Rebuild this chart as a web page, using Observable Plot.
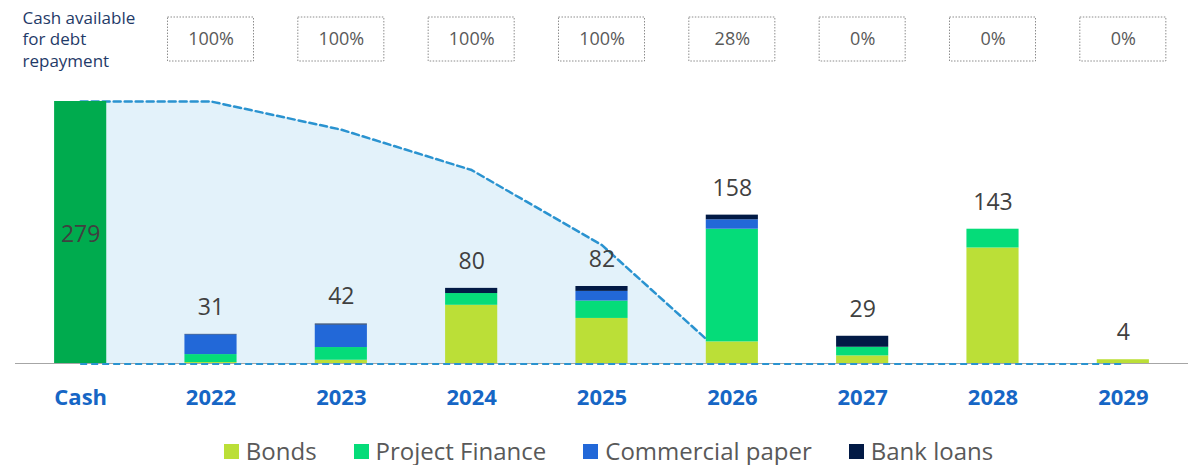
<!DOCTYPE html>
<html><head><meta charset="utf-8">
<script src="https://cdn.jsdelivr.net/npm/d3@7"></script>
<script src="https://cdn.jsdelivr.net/npm/@observablehq/plot@0.6"></script>
<style>
body{margin:0;background:#fff;font-family:"Open Sans",sans-serif;}
#chart{width:1201px;}
#chart svg{display:block;}
.lg-swatches{justify-content:center !important;padding-left:16px;margin-top:17px !important;margin-bottom:0 !important;min-height:28px !important;line-height:1.15 !important;font-size:24px !important;color:#595959 !important;font-family:"Open Sans",sans-serif !important;}
.lg-swatch{margin-right:37px !important;}
.lg-swatch:last-child{margin-right:0 !important;}
.lg-swatch > svg{margin-right:7px !important;}
</style></head><body><div id="chart"></div>
<script>
// ---- data ----
const categories = ["Cash", "2022", "2023", "2024", "2025", "2026", "2027", "2028", "2029"];
const cashValue = 279;
const years = ["2022", "2023", "2024", "2025", "2026", "2027", "2028", "2029"];
const bonds = [1, 3.5, 62, 48, 23, 8.1, 123, 4];
const projectFinance = [8.5, 13.5, 12.5, 18.5, 120, 9.2, 20, 0];
const commercialPaper = [21, 24, 0, 10.3, 10, 0, 0, 0];
const bankLoans = [0.5, 1, 5.5, 5.2, 5, 11.7, 0, 0];
const totals = [31, 42, 80, 82, 158, 29, 143, 4];
const cashAvailable = ["100%", "100%", "100%", "100%", "28%", "0%", "0%", "0%"];
const headerLabel = "Cash available\nfor debt\nrepayment";
const seriesNames = ["Bonds", "Project Finance", "Commercial paper", "Bank loans"];
const seriesColors = ["#bbdf37", "#05dc79", "#2268d8", "#021a45"];
// cash-coverage line (position in category index, remaining cash)
const coverX = [0, 1, 2, 3, 4, 4.8];
const coverV = [279, 279, 249, 206, 126, 26];

// ---- derived tables ----
const seriesValues = [bonds, projectFinance, commercialPaper, bankLoans];
const stackRows = [];
years.forEach((y, j) => seriesNames.forEach((s, k) => stackRows.push({i: j + 1, series: s, value: seriesValues[k][j]})));
const totalRows = years.map((y, j) => ({i: j + 1, total: totals[j]}));
const pctRows = years.map((y, j) => ({i: j + 1, label: cashAvailable[j]}));
const coverRows = coverX.map((x, j) => ({x, v: coverV[j]}));
const catRows = categories.map((c, i) => ({i, c}));

const common = {width: 1201, marginLeft: 15, marginRight: 13, x: {type: "linear", domain: [-0.5, 8.5], axis: null},
  style: {fontFamily: "Open Sans, sans-serif", background: "white"}};

const header = Plot.plot({
  ...common, height: 80, marginTop: 17, marginBottom: 19,
  y: {domain: [0, 1], axis: null},
  marks: [
    Plot.rect(pctRows, {x1: d => d.i - 0.33, x2: d => d.i + 0.33, y1: 0, y2: 1, fill: "none", stroke: "#8c8c8c", strokeDasharray: "1.5,1.5"}),
    Plot.text(pctRows, {x: "i", y: 0.5, text: "label", fontSize: 18, fill: "#595959"}),
    Plot.text([headerLabel], {x: -0.5, y: 0.5, dx: 7, dy: -1, text: d => d, textAnchor: "start", lineAnchor: "middle", fontSize: 17, fill: "#1f3a68", lineHeight: 1.28})
  ]
});

const main = Plot.plot({
  ...common, height: 340, marginTop: 21, marginBottom: 57,
  y: {domain: [0, 279], axis: null},
  color: {domain: seriesNames, range: seriesColors},
  marks: [
    Plot.ruleY([0], {x1: -0.5, x2: 8.5, stroke: "#a6a6a6", strokeWidth: 1.2}),
    Plot.areaY(coverRows, {x: "x", y: "v", fill: "#e3f2fa"}),
    Plot.lineY(coverRows, {x: "x", y: "v", stroke: "#2a93d0", strokeWidth: 2.5, strokeDasharray: "7,4"}),
    Plot.rectY([cashValue], {x1: -0.2, x2: 0.2, y: d => d, fill: "#00ab4e"}),
    Plot.rect(stackRows, Plot.stackY({x: "i", x1: d => d.i - 0.2, x2: d => d.i + 0.2, y: "value", fill: "series"})),
    Plot.ruleY([0], {x1: 0, x2: 8, stroke: "#2a93d0", strokeWidth: 2, strokeDasharray: "7,4", dy: 0.5}),
    Plot.text(totalRows, {x: "i", y: "total", text: d => String(d.total), dy: -27, fontSize: 23, fill: "#404040"}),
    Plot.text([cashValue], {x: 0, y: d => d / 2, text: d => String(d), dy: 2, fontSize: 23, fill: "#404040"}),
    Plot.text(catRows, {x: "i", y: 0, text: "c", dy: 34, fontWeight: "bold", fontSize: 22, fill: "#1666c5"})
  ]
});

const legend = Plot.legend({color: {type: "ordinal", domain: seriesNames, range: seriesColors}, swatchSize: 15, className: "lg",
  style: {fontSize: "24px", color: "#595959", fontFamily: "Open Sans, sans-serif"}});

const root = document.getElementById("chart");
root.append(header, main, legend);
</script></body></html>
